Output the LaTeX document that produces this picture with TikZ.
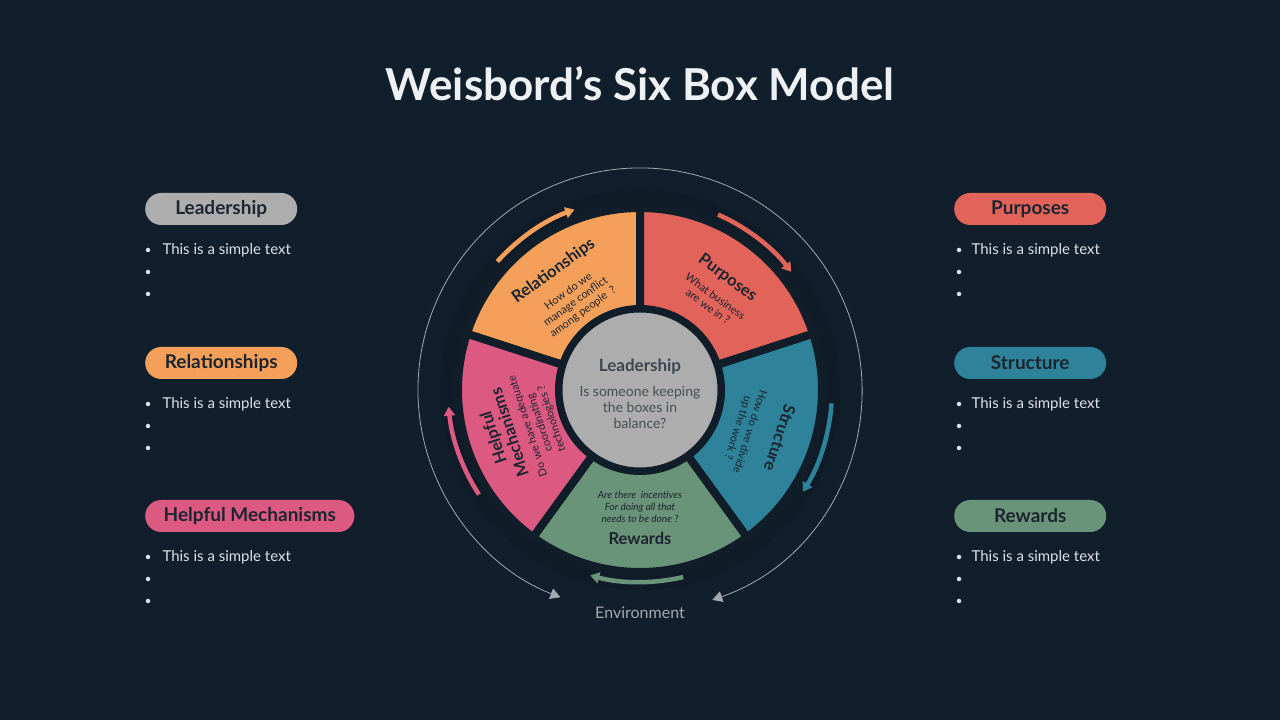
\documentclass[tikz,border=0pt]{standalone}
\usepackage{fontspec}
\setmainfont{Lato}
\usetikzlibrary{arrows.meta}

\definecolor{bgc}{HTML}{111E2B}
\definecolor{shadowc}{HTML}{0F1B27}
\definecolor{gapc}{HTML}{111D29}
\definecolor{titlec}{HTML}{EEF1F4}
\definecolor{softc}{HTML}{DDE1E6}
\definecolor{envc}{HTML}{A3A8AE}
\definecolor{inkc}{HTML}{1C2530}
\definecolor{hubsubc}{HTML}{464D56}
\definecolor{leadc}{HTML}{ADADAD}
\definecolor{relc}{HTML}{F4A05A}
\definecolor{purpc}{HTML}{E1635A}
\definecolor{strucc}{HTML}{2E8299}
\definecolor{rewc}{HTML}{6A9479}
\definecolor{helpc}{HTML}{DC5A82}

\begin{document}
\begin{tikzpicture}[x=1pt, y=1pt,
	pill/.style={rounded corners=16pt, minimum height=32pt, minimum width=152pt, inner xsep=18.5pt, anchor=west, text=inkc, font=\fontsize{19}{22}\selectfont\bfseries},
	dot/.style={circle, fill=softc, inner sep=0pt, minimum size=4.5pt},
	plain/.style={anchor=west, text=softc, font=\fontsize{15}{18}\selectfont},
	segtitle/.style={text=inkc, align=center, inner sep=1pt, font=\fontsize{16.5}{17}\selectfont\bfseries},
	segsub/.style={text=inkc, align=center, inner sep=1pt, font=\fontsize{11}{12.5}\selectfont},
	turn/.style={line width=4.5pt, -{Triangle[length=9pt, width=11pt]}}]
	
	\fill[bgc] (0,0) rectangle (1280,720);
	\useasboundingbox (0,0) rectangle (1280,720);
	
	\node[text=titlec, font=\fontsize{44}{50}\selectfont\bfseries] (title) at (640,636) {Weisbord’s Six Box Model};
	
	\begin{scope}[shift={(640,330)}]
		\fill[shadowc] (0,0) circle (200);
		
		\draw[envc, line width=0.8pt, {Triangle[length=10pt, width=11pt]}-{Triangle[length=10pt, width=11pt]}] (-71:222) arc[start angle=-71, end angle=249, radius=222];
		
		\foreach \a/\col in {90/relc, 18/purpc, -54/strucc, -126/rewc, 162/helpc}
		\filldraw[fill=\col, draw=gapc, line width=8pt] (\a:81) -- (\a:182) arc[start angle=\a, end angle=\a+72, radius=182] -- (\a+72:81) arc[start angle=\a+72, end angle=\a, radius=81] -- cycle;
		
		\foreach \m/\col in {124/relc, 52/purpc, -18/strucc, -91/rewc, 199/helpc}
		\draw[turn, \col] (\m+14:192) arc[start angle=\m+14, end angle=\m-14, radius=192];
		
		\node[circle, fill=leadc, draw=gapc, line width=3pt, minimum size=158pt] (hub) at (0,0) {};
		\node[text=inkc!85, font=\fontsize{17}{20}\selectfont\bfseries] (hubtitle) at (0,23) {Leadership};
		\node[text=hubsubc, align=center, font=\fontsize{14}{16}\selectfont] (hubsub) at (0,-17) {Is someone keeping\\the boxes in\\balance?};
		
		\node[segtitle, rotate=36] (reltitle) at (126:147) {Relationships};
		\node[segsub, rotate=36] (relsub) at (126:109) {How do we\\manage conflict\\among people\ \ ?};
		
		\node[segtitle, rotate=-36] (purptitle) at (52:142) {Purposes};
		\node[segsub, rotate=-36] (purpsub) at (51:114) {What business\\are we in ?};
		
		\node[segtitle, rotate=-108] (structitle) at (-19:148) {Structure};
		\node[segsub, rotate=-108] (strucsub) at (-21:111) {How do we divide\\up the work ?};
		
		\node[segtitle] (rewtitle) at (-90:148) {Rewards};
		\node[segsub, font=\fontsize{10}{12}\selectfont\itshape] (rewsub) at (-90:117) {Are there\ \ incentives\\For doing all that\\needs to be done ?};
		
		\node[segtitle, rotate=108] (helptitle) at (198:146) {Helpful\\Mechanisms};
		\node[segsub, rotate=108] (helpsub) at (198:105) {Do we have adequate\\coordinating\\technologies ?};
	\end{scope}
	
	\node[text=envc, font=\fontsize{16}{18}\selectfont] (env) at (640,107) {Environment};
	
	\foreach \y/\nm/\txt/\col in {511/lead/Leadership/leadc, 357/rel/Relationships/relc, 204/help/Helpful Mechanisms/helpc} {
		\node[pill, fill=\col] (\nm pill) at (145,\y) {\txt};
		\node[dot] at (148,\y-41) {};
		\node[dot] at (148,\y-63) {};
		\node[dot] at (148,\y-85) {};
		\node[plain] (\nm note) at (159,\y-41) {This is a simple text};
	}
	
	\foreach \y/\nm/\txt/\col in {511/purp/Purposes/purpc, 357/struc/Structure/strucc, 204/rew/Rewards/rewc} {
		\node[pill, fill=\col] (\nm pill) at (954,\y) {\txt};
		\node[dot] at (959,\y-41) {};
		\node[dot] at (959,\y-63) {};
		\node[dot] at (959,\y-85) {};
		\node[plain] (\nm note) at (968,\y-41) {This is a simple text};
	}
	
\end{tikzpicture}
\end{document}
